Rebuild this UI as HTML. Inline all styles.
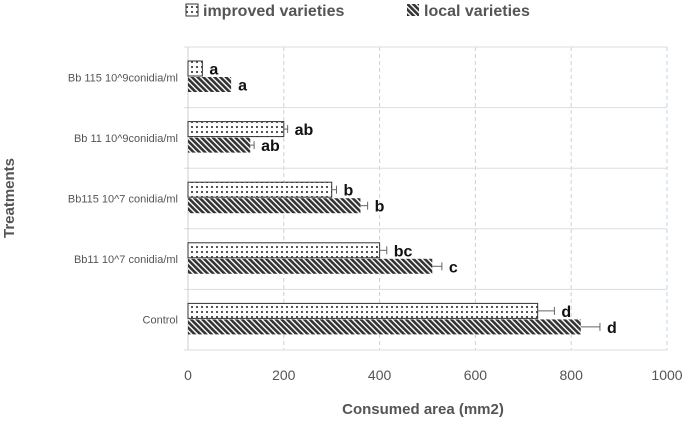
<!DOCTYPE html>
<html><head><meta charset="utf-8"><style>
body{margin:0;background:#fff;font-family:"Liberation Sans",sans-serif}
</style></head><body>
<svg width="685" height="420" xmlns="http://www.w3.org/2000/svg">
<defs>
<pattern id="dots" width="5" height="5" patternUnits="userSpaceOnUse"><rect width="5" height="5" fill="#fff"/><rect x="1" y="1" width="2" height="2" fill="#555"/></pattern>
<pattern id="hatch" width="4" height="4" patternUnits="userSpaceOnUse" patternTransform="rotate(-45)"><rect width="4" height="4" fill="#fff"/><rect width="2.6" height="4" fill="#333"/></pattern>
</defs>
<g id="legend">
<g><rect x="186" y="4" width="12" height="12" fill="url(#dots)" stroke="#333"/><text x="203" y="16" font-size="16" font-weight="bold" fill="#555">improved varieties</text></g>
<g><rect x="407" y="4" width="12" height="12" fill="url(#hatch)"/><text x="424" y="16" font-size="16" font-weight="bold" fill="#555">local varieties</text></g>
</g>
<g id="grid"></g><g id="bars"></g><g id="labels"></g>
<text x="423" y="414" text-anchor="middle" font-size="15" font-weight="bold" fill="#555">Consumed area (mm2)</text>
<text transform="translate(14,198) rotate(-90)" text-anchor="middle" font-size="15" font-weight="bold" fill="#555">Treatments</text>
</svg>
<script>
const categories=["Bb 115 10^9conidia/ml","Bb 11 10^9conidia/ml","Bb115 10^7 conidia/ml","Bb11 10^7 conidia/ml","Control"];
const improved=[30,200,300,400,730];
const local=[90,130,360,510,820];
const improvedErr=[0,8,10,15,35];
const localErr=[0,8,15,20,40];
const improvedLetters=["a","ab","b","bc","d"];
const localLetters=["a","ab","b","c","d"];
const ticks=[0,200,400,600,800,1000];
const NS="http://www.w3.org/2000/svg";
const x0=188,x1=667,yTop=47,yBottom=350;
const xs=v=>x0+(v/1000)*(x1-x0);
const band=(yBottom-yTop)/categories.length;
function mk(t,a,p){const e=document.createElementNS(NS,t);for(const k in a)e.setAttribute(k,a[k]);p.appendChild(e);return e;}
const g=document.getElementById('grid'),b=document.getElementById('bars'),l=document.getElementById('labels');
ticks.forEach(t=>{
 if(t>0){const ln=mk('line',{x1:xs(t),x2:xs(t),y1:yTop,y2:yBottom,stroke:'#bcd4ea','stroke-dasharray':'4,3'},g);
 
 }
 const tx=mk('text',{x:xs(t),y:380,'text-anchor':'middle','font-size':14,fill:'#555'},l);tx.textContent=t;
 
 
});
for(let i=0;i<=categories.length;i++){const ln=mk('line',{x1:x0-4,x2:x1,y1:yTop+i*band,y2:yTop+i*band,stroke:'#ddd'},g);
 
 }
const ax=mk('line',{x1:x0,x2:x0,y1:yTop,y2:yBottom,stroke:'#ccc'},g);


categories.forEach((c,i)=>{
 const by=yTop+i*band;
 const t=mk('text',{x:178,y:by+band/2+4,'text-anchor':'end','font-size':11,fill:'#555'},l);t.textContent=c;
 
 
 [[improved,improvedErr,improvedLetters,'url(#dots)',14],[local,localErr,localLetters,'url(#hatch)',30]].forEach(([vals,errs,lets,fill,off],s)=>{
  const y=by+off,h=15,w=xs(vals[i])-x0;
  const r=mk('rect',{x:x0,y:y,width:w,height:h,fill:fill,stroke:s?'none':'#333','stroke-width':1},b);
  
  
  const ex=xs(vals[i]+errs[i]);
  if(errs[i]>0){mk('line',{x1:xs(vals[i]),x2:ex,y1:y+h/2,y2:y+h/2,stroke:'#666'},b);mk('line',{x1:ex,x2:ex,y1:y+h/2-4,y2:y+h/2+4,stroke:'#666'},b);}
  const lt=mk('text',{x:ex+7,y:y+h/2+6,'font-size':16,'font-weight':'bold',fill:'#111'},l);lt.textContent=lets[i];
  
  
 });
});
</script>
</body></html>
